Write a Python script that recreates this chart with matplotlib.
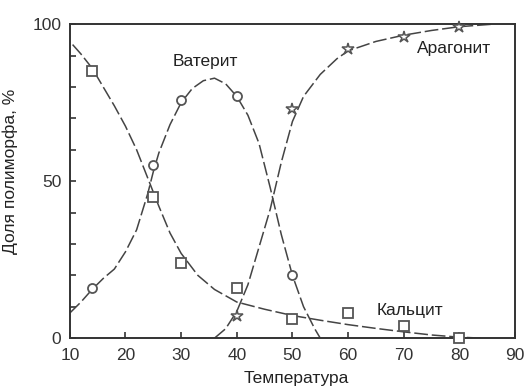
import matplotlib
matplotlib.use("Agg")
import matplotlib.pyplot as plt

plt.rcParams['font.family'] = ['Liberation Sans', 'DejaVu Sans']

# Measured points
calc_x = [14, 25, 30, 40, 50, 60, 70, 80]
calc_y = [85, 45, 24, 16, 6, 8, 4, 0]
vat_x = [14, 25, 30, 40, 50]
vat_y = [16, 55, 76, 77, 20]
arag_x = [40, 50, 60, 70, 80]
arag_y = [7, 73, 92, 96, 99]

# Guide curves
calc_cx = [10.5, 12, 14, 16, 18, 20, 22, 24, 26, 28, 30, 33, 36, 40, 45, 50, 55, 60, 65, 70, 75, 80, 84]
calc_cy = [93.5, 90.5, 86, 80, 74, 67.5, 60, 51, 42, 33.5, 27, 20, 15.5, 11.5, 9.2, 7.2, 5.7, 4.3, 3.1, 2.0, 1.0, 0.3, 0]
vat_cx = [10, 12, 14, 16, 18, 20, 22, 24, 25, 26, 28, 30, 32, 34, 36, 38, 40, 42, 44, 46, 48, 50, 52, 54, 55]
vat_cy = [8, 11.5, 15.5, 19, 22, 27.5, 34.5, 46, 53, 59, 68, 75, 79.5, 82, 82.8, 81, 77, 71, 62, 48, 33, 20, 10, 3, 0]
arag_cx = [36, 38, 40, 42, 44, 46, 48, 50, 52, 55, 58, 60, 65, 70, 75, 80, 86]
arag_cy = [0, 3, 8.5, 17, 29, 41, 56, 69, 77, 84, 89, 91.5, 94.5, 96.5, 98, 99.2, 100]

fig = plt.figure(figsize=(5.25, 3.9), dpi=100)
ax = fig.add_axes([0.133, 0.133, 0.848, 0.805])

lc = '#444444'
dash = (0, (9, 2.5))
ax.plot(calc_cx, calc_cy, color=lc, lw=1.1, linestyle=dash, zorder=2)
ax.plot(vat_cx, vat_cy, color=lc, lw=1.1, linestyle=dash, zorder=2)
ax.plot(arag_cx, arag_cy, color=lc, lw=1.1, linestyle=dash, zorder=2)

mc = '#555555'
ax.plot(calc_x, calc_y, 's', ms=7, mfc='white', mec=mc, mew=1.3, linestyle='none', zorder=3, clip_on=False)
ax.plot(vat_x, vat_y, 'o', ms=6.5, mfc='white', mec=mc, mew=1.3, linestyle='none', zorder=3, clip_on=False)
ax.plot(arag_x, arag_y, '*', ms=9, mfc='white', mec=mc, mew=1.1, linestyle='none', zorder=3, clip_on=False)

fs = 12.5
ax.set_xlim(10, 90)
ax.set_ylim(0, 100)
ax.set_xticks(range(10, 91, 10))
ax.set_yticks([0, 50, 100])
ax.set_yticks(range(0, 101, 10), minor=True)
ax.tick_params(axis='both', which='both', direction='in', labelsize=fs, color='#333333',
               labelcolor='#333333')
ax.tick_params(axis='both', which='major', length=4, width=1.2)
ax.tick_params(axis='y', which='minor', length=4, width=1.2)
ax.tick_params(axis='x', pad=7)
ax.tick_params(axis='y', pad=6)
for s in ax.spines.values():
    s.set_linewidth(1.4)
    s.set_color('#333333')

ax.set_xlabel('Температура', fontsize=fs, color='#222222')
ax.set_ylabel('Доля полиморфа, %', fontsize=fs, color='#222222')
ax.xaxis.set_label_coords(0.508, -0.106)
ax.yaxis.set_label_coords(-0.117, 0.53)

ax.text(34.3, 88, 'Ватерит', fontsize=fs, ha='center', va='center', color='#222222')
ax.text(79, 92.4, 'Арагонит', fontsize=fs, ha='center', va='center', color='#222222')
ax.text(71.1, 8.9, 'Кальцит', fontsize=fs, ha='center', va='center', color='#222222')

fig.savefig('out.png', dpi=100)
